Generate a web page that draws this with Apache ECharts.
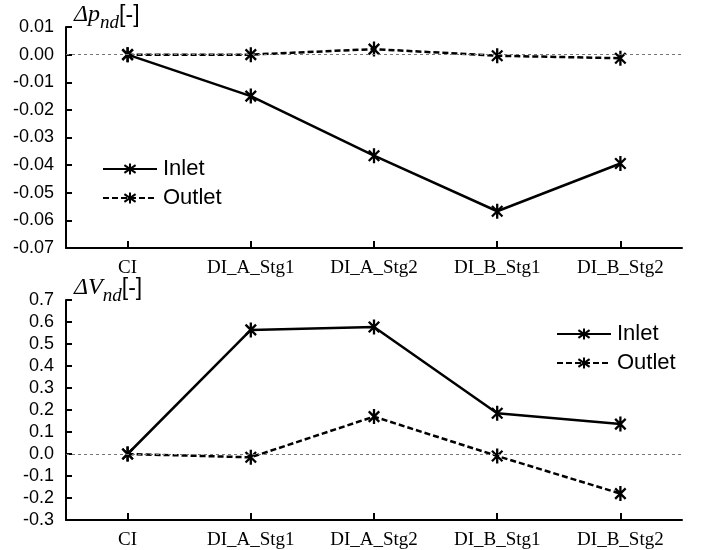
<!DOCTYPE html>
<html>
<head>
<meta charset="utf-8">
<script src="https://cdn.jsdelivr.net/npm/echarts@6/dist/echarts.min.js"></script>
<style>html,body{margin:0;padding:0;background:#fff;}#c{width:702px;height:550px;}</style>
</head>
<body>
<div id="c"></div>
<script>
var categories = ['CI', 'DI_A_Stg1', 'DI_A_Stg2', 'DI_B_Stg1', 'DI_B_Stg2'];
var pInlet  = [0, -0.015, -0.0366, -0.0567, -0.0394];
var pOutlet = [0, 0.0, 0.0020, -0.0004, -0.0013];
var vInlet  = [0, 0.564, 0.577, 0.185, 0.136];
var vOutlet = [0, -0.015, 0.170, -0.009, -0.180];
var pTicks = {min: -0.07, max: 0.01, interval: 0.01, digits: 2};
var vTicks = {min: -0.3, max: 0.7, interval: 0.1, digits: 1};

var STAR = 'path://M10,0L10,20M3,3L17,17M3,17L17,3';
var SANS = 'Liberation Sans';
var SERIF = 'Liberation Serif';

function yAxis(idx, t, sym) {
  return {
    type: 'value', gridIndex: idx, min: t.min, max: t.max, interval: t.interval,
    axisLine: {show: true, lineStyle: {color: '#000', width: 2}},
    axisTick: {show: true, inside: true, length: 6, lineStyle: {color: '#000', width: 2}},
    axisLabel: {margin: 12, color: '#000', fontFamily: SANS, fontSize: 18,
      formatter: function (v) { return v.toFixed(t.digits); }},
    splitLine: {show: false},
    name: '{d|Δ' + sym + '}{s|nd}{b|[-]}',
    nameLocation: 'end', nameGap: 0,
    nameTextStyle: {align: 'left', verticalAlign: 'bottom', padding: [0, 0, 0, 8],
      rich: {
        d: {fontFamily: SERIF, fontStyle: 'italic', fontSize: 24, color: '#000', lineHeight: 28, verticalAlign: 'bottom'},
        s: {fontFamily: SERIF, fontStyle: 'italic', fontSize: 19, color: '#000', lineHeight: 28, verticalAlign: 'bottom', padding: [0, 0, -5, 0]},
        b: {fontFamily: SANS, fontSize: 23, color: '#000', lineHeight: 28, verticalAlign: 'bottom'}
      }}
  };
}
function xAxis(idx) {
  return {
    type: 'category', gridIndex: idx, data: categories, boundaryGap: true,
    axisLine: {show: true, onZero: false, lineStyle: {color: '#000', width: 2}},
    axisTick: {show: true, inside: true, alignWithLabel: true, length: 7, lineStyle: {color: '#000', width: 2}},
    axisLabel: {margin: 11, color: '#000', fontFamily: SERIF, fontSize: 19, interval: 0},
    splitLine: {show: false}
  };
}
function series(name, data, idx, dashed, zero) {
  var s = {
    name: name, type: 'line', xAxisIndex: idx, yAxisIndex: idx, data: data,
    symbol: STAR, symbolSize: 15, symbolKeepAspect: true, showAllSymbol: true,
    lineStyle: {color: '#000', width: 2.5, type: dashed ? [6, 3] : 'solid'},
    itemStyle: {color: 'rgba(0,0,0,0)', borderColor: '#000', borderWidth: 2.3},
    emphasis: {disabled: true}, animation: false
  };
  if (zero) {
    s.markLine = {silent: true, symbol: 'none', label: {show: false},
      lineStyle: {color: '#777', width: 1, type: [3, 3]}, data: [{yAxis: 0}], animation: false};
  }
  return s;
}
function legend(left, top) {
  return {
    left: left, top: top, orient: 'vertical', itemWidth: 54, itemHeight: 14, itemGap: 7, padding: 0,
    data: ['Inlet', 'Outlet'], selectedMode: false,
    textStyle: {fontFamily: SANS, fontSize: 22, color: '#000', lineHeight: 22, padding: [0, 0, 0, 1]}
  };
}

var chart = echarts.init(document.getElementById('c'), null, {renderer: 'canvas'});
chart.setOption({
  backgroundColor: '#fff',
  animation: false,
  grid: [
    {left: 66, right: 20, top: 27, height: 221},
    {left: 66, right: 20, top: 300, height: 220}
  ],
  xAxis: [xAxis(0), xAxis(1)],
  yAxis: [yAxis(0, pTicks, 'p'), yAxis(1, vTicks, 'V')],
  legend: [legend(102, 158), legend(556, 323)],
  series: [
    series('Inlet', pInlet, 0, false, true),
    series('Outlet', pOutlet, 0, true, false),
    series('Inlet', vInlet, 1, false, true),
    series('Outlet', vOutlet, 1, true, false)
  ]
});
</script>
</body>
</html>
